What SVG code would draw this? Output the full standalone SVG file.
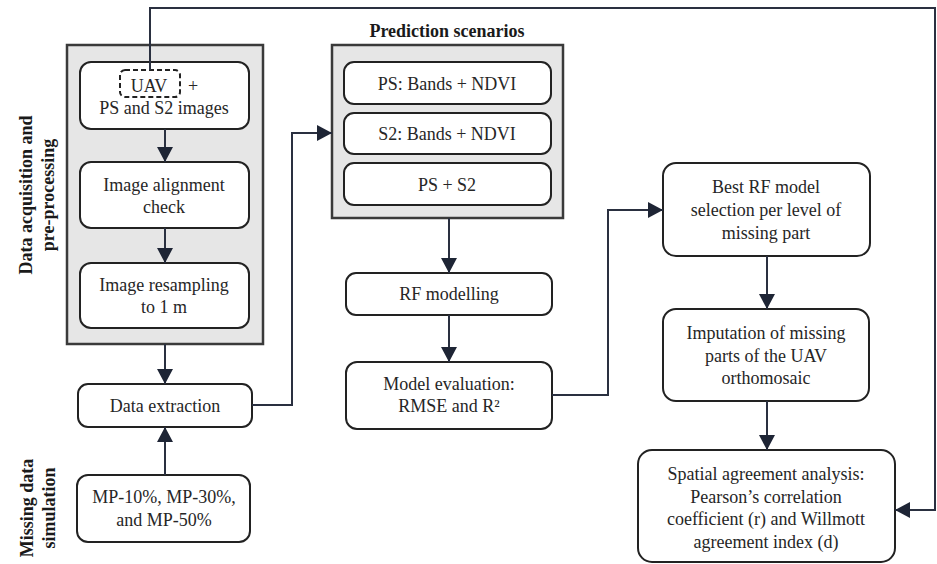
<svg xmlns="http://www.w3.org/2000/svg" width="937" height="564" viewBox="0 0 937 564">
<defs>
<marker id="ah" viewBox="0 0 15 16" refX="15" refY="8" markerWidth="15" markerHeight="16" markerUnits="userSpaceOnUse" orient="auto">
<path d="M0,0 L15,8 L0,16 Z" fill="#1e2535"/>
</marker>
<style>
.panel{fill:#e6e6e6;stroke:#3a3a3a;stroke-width:2.5}
.box{fill:#ffffff;stroke:#222222;stroke-width:2}
.dash{fill:none;stroke:#222222;stroke-width:2;stroke-dasharray:5,3}
.t{font-family:"Liberation Serif","Times New Roman",serif;font-size:18px;fill:#262626;text-anchor:middle}
.b{font-family:"Liberation Serif","Times New Roman",serif;font-size:18px;font-weight:bold;fill:#1a1a1a;text-anchor:middle}
.ca{fill:none;stroke:#2a3040;stroke-width:2;marker-end:url(#ah)}
</style>
</defs>
<rect width="937" height="564" fill="#ffffff"/>

<g id="label-acquisition">
<text class="b" transform="translate(32,195) rotate(-90)">Data acquisition and</text>
<text class="b" transform="translate(54,195) rotate(-90)">pre-processing</text>
</g>
<g id="label-missing">
<text class="b" transform="translate(33,508) rotate(-90)">Missing data</text>
<text class="b" transform="translate(55,508) rotate(-90)">simulation</text>
</g>

<g id="panel-preprocessing">
<rect class="panel" x="67" y="45" width="196" height="299"/>
</g>
<g id="node-images">
<rect class="box" x="80" y="62" width="169" height="67" rx="11"/>
<rect class="dash" x="120" y="70" width="60" height="27" rx="5"/>
<text class="t" x="149" y="92">UAV</text>
<text class="t" x="193" y="92">+</text>
<text class="t" x="164" y="114">PS and S2 images</text>
</g>
<g id="node-alignment">
<rect class="box" x="80" y="162" width="169" height="66" rx="11"/>
<text class="t" x="164" y="191">Image alignment</text>
<text class="t" x="164" y="213">check</text>
</g>
<g id="node-resampling">
<rect class="box" x="80" y="263" width="169" height="65" rx="11"/>
<text class="t" x="164" y="291">Image resampling</text>
<text class="t" x="164" y="313">to 1 m</text>
</g>
<g id="node-extraction">
<rect class="box" x="78" y="384" width="174" height="43" rx="10"/>
<text class="t" x="165" y="412">Data extraction</text>
</g>
<g id="node-mp">
<rect class="box" x="77" y="475" width="173" height="67" rx="11"/>
<text class="t" x="164" y="503">MP-10%, MP-30%,</text>
<text class="t" x="164" y="526">and MP-50%</text>
</g>

<g id="panel-scenarios">
<text class="b" x="447" y="37">Prediction scenarios</text>
<rect class="panel" x="332" y="45" width="231" height="173"/>
</g>
<g id="node-ps">
<rect class="box" x="344" y="62" width="207" height="42" rx="10"/>
<text class="t" x="447" y="90">PS: Bands + NDVI</text>
</g>
<g id="node-s2">
<rect class="box" x="344" y="113" width="207" height="41" rx="10"/>
<text class="t" x="447" y="140">S2: Bands + NDVI</text>
</g>
<g id="node-psS2">
<rect class="box" x="344" y="163" width="207" height="42" rx="10"/>
<text class="t" x="447" y="191">PS + S2</text>
</g>

<g id="node-rf">
<rect class="box" x="346" y="273" width="206" height="42" rx="10"/>
<text class="t" x="449" y="300">RF modelling</text>
</g>
<g id="node-eval">
<rect class="box" x="346" y="362" width="206" height="67" rx="11"/>
<text class="t" x="449" y="390">Model evaluation:</text>
<text class="t" x="449" y="412">RMSE and R²</text>
</g>

<g id="node-best">
<rect class="box" x="663" y="163" width="207" height="93" rx="13"/>
<text class="t" x="766" y="193">Best RF model</text>
<text class="t" x="766" y="216">selection per level of</text>
<text class="t" x="766" y="239">missing part</text>
</g>
<g id="node-imputation">
<rect class="box" x="663" y="309" width="206" height="92" rx="13"/>
<text class="t" x="766" y="339">Imputation of missing</text>
<text class="t" x="766" y="362">parts of the UAV</text>
<text class="t" x="766" y="384">orthomosaic</text>
</g>
<g id="node-spatial">
<rect class="box" x="638" y="450" width="257" height="112" rx="14"/>
<text class="t" x="766" y="480">Spatial agreement analysis:</text>
<text class="t" x="766" y="503">Pearson’s correlation</text>
<text class="t" x="766" y="525">coefficient (r) and Willmott</text>
<text class="t" x="766" y="548">agreement index (d)</text>
</g>

<g id="connectors">
<path class="ca" d="M150,70 V8 H935 V510 H895"/>
<path class="ca" d="M165,129 V162"/>
<path class="ca" d="M165,228 V263"/>
<path class="ca" d="M165,344 V384"/>
<path class="ca" d="M165,475 V427"/>
<path class="ca" d="M252,405 H292 V133 H332"/>
<path class="ca" d="M449,218 V273"/>
<path class="ca" d="M449,315 V362"/>
<path class="ca" d="M552,395 H608 V210 H663"/>
<path class="ca" d="M767,256 V309"/>
<path class="ca" d="M767,401 V450"/>
</g>
</svg>
